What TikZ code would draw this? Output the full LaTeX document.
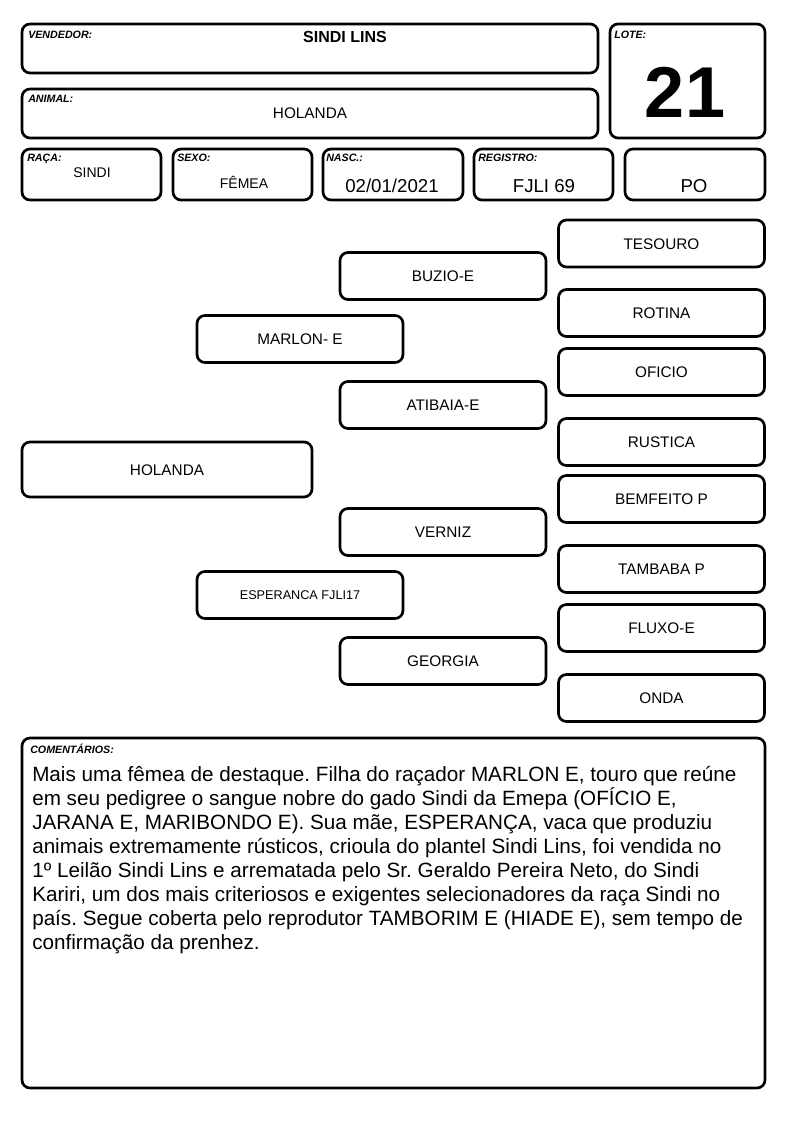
\documentclass[tikz,border=0pt]{standalone}
\usepackage{fontspec}
\setmainfont{Liberation Sans}
\frenchspacing
\begin{document}
\begin{tikzpicture}[x=0.75pt,y=-0.75pt,
  box/.style={draw, line width=2pt, rounded corners=6pt, inner sep=0pt},
  lbl/.style={font=\fontsize{8}{9}\selectfont\bfseries\itshape, inner sep=0pt, anchor=base west},
  val/.style={inner sep=0pt, anchor=base},
  ped/.style={box, minimum width={206*0.75pt}, minimum height={47*0.75pt},
    font=\fontsize{11.5}{13}\selectfont, text height=8.25pt, text depth=0pt},
  pbig/.style={font=\fontsize{14}{16}\selectfont},
  psmall/.style={font=\fontsize{10.5}{12}\selectfont}]
\useasboundingbox (0,0) rectangle (794,1123);
% header boxes
\node[box, minimum width={576*0.75pt}, minimum height={49*0.75pt}] (vend) at (310,48.5) {};
\node[box, minimum width={576*0.75pt}, minimum height={49*0.75pt}] (anim) at (310,113.5) {};
\node[box, minimum width={155*0.75pt}, minimum height={114*0.75pt}] (lote) at (687.5,81) {};
\node[box, minimum width={139*0.75pt}, minimum height={51*0.75pt}] (raca) at (91.5,174.5) {};
\node[box, minimum width={139*0.75pt}, minimum height={51*0.75pt}] (sexo) at (242.5,174.5) {};
\node[box, minimum width={140*0.75pt}, minimum height={51*0.75pt}] (nasc) at (393,174.5) {};
\node[box, minimum width={139*0.75pt}, minimum height={51*0.75pt}] (reg) at (543.5,174.5) {};
\node[box, minimum width={140*0.75pt}, minimum height={51*0.75pt}] (po) at (695,174.5) {};
% labels
\node[lbl] (lvend) at (28,39) {VENDEDOR:};
\node[lbl] (lanim) at (28,103) {ANIMAL:};
\node[lbl] (llote) at (614,39) {LOTE:};
\node[lbl] (lraca) at (27,162) {RAÇA:};
\node[lbl] (lsexo) at (177,162) {SEXO:};
\node[lbl] (lnasc) at (326,162) {NASC.:};
\node[lbl] (lreg) at (478,162) {REGISTRO:};
% values
\node[val, font=\fontsize{12}{14}\selectfont\bfseries] (tvend) at (345,43) {SINDI LINS};
\node[val, font=\fontsize{11.5}{14}\selectfont] (tanim) at (310,118.5) {HOLANDA};
\node[val, font=\fontsize{54}{60}\selectfont\bfseries] (tlote) at (685,118) {21};
\node[val, psmall] (traca) at (92,178) {SINDI};
\node[val, psmall] (tsexo) at (244,189) {FÊMEA};
\node[val, pbig] (tnasc) at (392,192.5) {02/01/2021};
\node[val, pbig] (treg) at (544,192.5) {FJLI 69};
\node[val, pbig] (tpo) at (694,192.5) {PO};
% pedigree
\node[ped] (tesouro) at (661.5,243.5) {TESOURO};
\node[ped] (buzio) at (443,276) {BUZIO-E};
\node[ped] (rotina) at (661.5,313) {ROTINA};
\node[ped] (marlon) at (300,339) {MARLON- E};
\node[ped] (oficio) at (661.5,372) {OFICIO};
\node[ped] (atibaia) at (443,405) {ATIBAIA-E};
\node[ped] (rustica) at (661.5,442) {RUSTICA};
\node[ped, minimum width={290*0.75pt}, minimum height={55*0.75pt}] (holanda) at (167,469.5) {HOLANDA};
\node[ped] (bemfeito) at (661.5,499) {BEMFEITO P};
\node[ped] (verniz) at (443,532) {VERNIZ};
\node[ped] (tambaba) at (661.5,569) {TAMBABA P};
\node[ped, font=\fontsize{9.5}{11}\selectfont, text height=6.8pt] (esperanca) at (300,595) {ESPERANCA FJLI17};
\node[ped] (fluxo) at (661.5,628) {FLUXO-E};
\node[ped] (georgia) at (443,661) {GEORGIA};
\node[ped] (onda) at (661.5,698) {ONDA};
% comments
\node[box, minimum width={743*0.75pt}, minimum height={350*0.75pt}] (com) at (393.5,913) {};
\node[lbl] (lcom) at (30,753) {COMENTÁRIOS:};
\node[inner sep=0pt, anchor=north west, align=left, font=\fontsize{15.5}{18}\selectfont] (tcom) at (32,766) {Mais uma fêmea de destaque. Filha do raçador MARLON E, touro que reúne\\
em seu pedigree o sangue nobre do gado Sindi da Emepa (OFÍCIO E,\\
JARANA E, MARIBONDO E). Sua mãe, ESPERANÇA, vaca que produziu\\
animais extremamente rústicos, crioula do plantel Sindi Lins, foi vendida no\\
1º Leilão Sindi Lins e arrematada pelo Sr. Geraldo Pereira Neto, do Sindi\\
Kariri, um dos mais criteriosos e exigentes selecionadores da raça Sindi no\\
país. Segue coberta pelo reprodutor TAMBORIM E (HIADE E), sem tempo de\\
confirmação da prenhez.};
\end{tikzpicture}
\end{document}
